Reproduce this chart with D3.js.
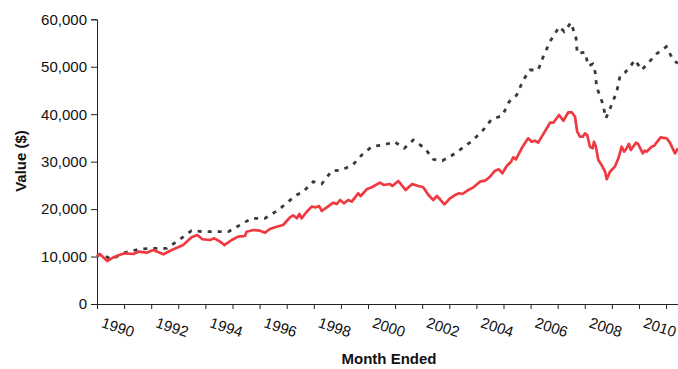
<!DOCTYPE html>
<html><head><meta charset="utf-8">
<script src="https://cdn.jsdelivr.net/npm/d3@7"></script>
<style>body{margin:0;background:#fff}svg{display:block}text{font-family:"Liberation Sans",Arial,sans-serif}</style>
</head><body><svg id="c" width="678" height="369"></svg>
<script>
const fundDates = [1990.00,1990.11,1990.38,1990.54,1990.79,1991.03,1991.34,1991.52,1991.83,1992.08,1992.45,1992.76,1993.18,1993.49,1993.70,1993.89,1994.17,1994.33,1994.54,1994.70,1994.97,1995.21,1995.46,1995.52,1995.77,1996.01,1996.20,1996.38,1996.63,1996.87,1997.12,1997.24,1997.37,1997.47,1997.55,1997.74,1997.92,1998.08,1998.20,1998.29,1998.48,1998.72,1998.85,1998.97,1999.11,1999.27,1999.40,1999.64,1999.73,1999.95,2000.14,2000.44,2000.59,2000.81,2000.90,2001.12,2001.39,2001.63,2001.86,2002.04,2002.23,2002.41,2002.54,2002.66,2002.82,2003.03,2003.21,2003.36,2003.48,2003.64,2003.89,2004.13,2004.32,2004.50,2004.69,2004.83,2004.96,2005.12,2005.28,2005.36,2005.46,2005.67,2005.91,2006.04,2006.16,2006.28,2006.72,2006.84,2007.05,2007.21,2007.39,2007.52,2007.64,2007.72,2007.82,2007.92,2008.01,2008.09,2008.19,2008.29,2008.34,2008.41,2008.50,2008.62,2008.75,2008.81,2008.93,2009.11,2009.24,2009.36,2009.45,2009.52,2009.63,2009.70,2009.89,2009.97,2010.14,2010.22,2010.28,2010.47,2010.56,2010.80,2011.02,2011.14,2011.33,2011.44];
const fundValues = [10100,10500,9060,9630,10260,10680,10540,11030,10820,11380,10470,11380,12430,14050,14540,13640,13490,13840,13140,12430,13490,14190,14330,15240,15600,15450,15030,15810,16290,16650,18270,18690,18060,18970,18060,19450,20510,20380,20650,19600,20380,21350,21070,21920,21220,21920,21570,23330,22760,24170,24600,25580,25080,25290,24870,25920,24020,25290,24870,24590,22970,21920,22760,22070,21010,22280,22970,23330,23180,23810,24590,25780,25990,26830,28090,28390,27550,29080,29990,30920,30490,32810,34920,34200,34420,34000,38210,38210,39830,38630,40400,40400,39470,36310,35260,35260,35960,35620,33150,32810,34200,33150,30350,29290,27880,26280,27880,28940,30710,33150,32100,32600,33720,32460,34000,33720,31760,32310,32100,33150,33360,35130,34920,34000,31760,32810];
const indexDates = [1990.00,1990.11,1990.54,1991.03,1991.52,1992.02,1992.57,1993.06,1993.49,1993.92,1994.42,1994.85,1995.28,1995.71,1996.20,1996.69,1997.06,1997.37,1997.61,1997.98,1998.29,1998.66,1999.03,1999.46,1999.77,2000.14,2000.63,2000.97,2001.34,2001.67,2002.10,2002.41,2002.74,2003.03,2003.39,2003.80,2004.20,2004.56,2004.96,2005.21,2005.49,2005.73,2005.98,2006.28,2006.49,2006.75,2007.06,2007.24,2007.49,2007.68,2007.72,2008.01,2008.13,2008.29,2008.38,2008.44,2008.66,2008.78,2008.96,2009.18,2009.30,2009.48,2009.67,2009.85,2010.10,2010.33,2010.64,2011.01,2011.26,2011.44];
const indexValues = [10000,10500,9480,10820,11520,11740,11740,13630,15450,15240,15240,15240,16650,18060,18060,19810,21570,22970,23680,25780,25290,28030,28240,29440,31400,33150,33600,34200,32810,34560,32810,30490,30200,31060,32460,34200,36310,38920,39700,42640,44050,47210,49320,49320,52480,55640,58440,57390,59290,56000,52830,53040,50160,50580,48960,45670,42300,39130,41580,44740,48050,48750,50010,51420,49320,50720,52690,54230,51420,50720];
const yTicks = [0,10000,20000,30000,40000,50000,60000];
const xLabelYears = [1990,1992,1994,1996,1998,2000,2002,2004,2006,2008,2010];
const xTickYears = d3.range(1990, 2012);

const svg = d3.select("#c");
const x = d3.scaleLinear().domain([1990, 2011.44]).range([97, 678]);
const y = d3.scaleLinear().domain([0, 60000]).range([304, 19.3]);

const line = d3.line().x(d => x(d[0])).y(d => y(d[1])).curve(d3.curveLinear);

// axes
const yAxis = svg.append("g").attr("transform","translate(97,0)")
  .call(d3.axisLeft(y).tickValues(yTicks).tickSize(6).tickPadding(4).tickFormat(d3.format(",")));
yAxis.select(".domain").attr("stroke","#222");
yAxis.selectAll(".tick line").attr("stroke","#222");
yAxis.selectAll("text").attr("font-size",15).attr("fill","#111").attr("font-family","Liberation Sans, Arial, sans-serif");

const xAxis = svg.append("g").attr("transform","translate(0,304)")
  .call(d3.axisBottom(x).tickValues(xTickYears).tickSize(5).tickFormat(""));
xAxis.select(".domain").attr("stroke","#222");
xAxis.selectAll(".tick line").attr("stroke","#222");

svg.append("g").selectAll("text").data(xLabelYears).join("text")
  .attr("transform", d => `translate(${x(d)+21},327) rotate(18)`)
  .attr("text-anchor","middle").attr("dominant-baseline","central")
  .attr("font-size",15).attr("fill","#111").text(d => d);

// lines
svg.append("path").datum(indexDates.map((d,i)=>[d,indexValues[i]]))
  .attr("d", line).attr("fill","none").attr("stroke","#3a3a3a")
  .attr("stroke-width",2.8).attr("stroke-dasharray","4,6");
svg.append("path").datum(fundDates.map((d,i)=>[d,fundValues[i]]))
  .attr("d", line).attr("fill","none").attr("stroke","#ef3a42")
  .attr("stroke-width",2.7).attr("stroke-linejoin","round");

// titles
svg.append("text").attr("transform","translate(26,161) rotate(-90)")
  .attr("text-anchor","middle").attr("font-size",15).attr("font-weight","bold").attr("fill","#111").text("Value ($)");
svg.append("text").attr("x",389).attr("y",364)
  .attr("text-anchor","middle").attr("font-size",15).attr("font-weight","bold").attr("fill","#111").text("Month Ended");
</script></body></html>
